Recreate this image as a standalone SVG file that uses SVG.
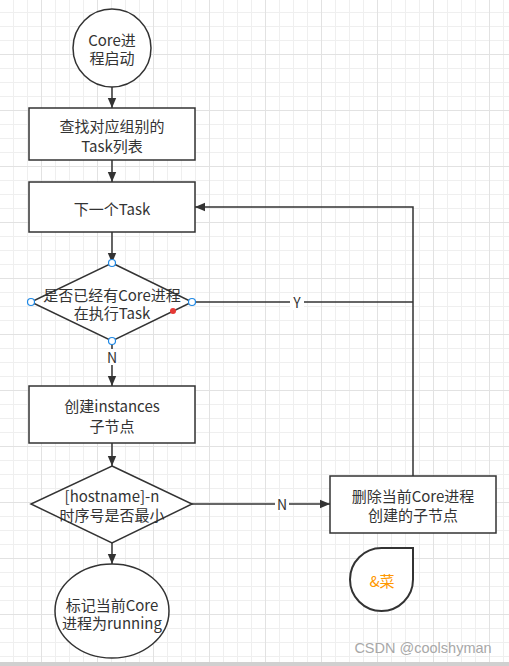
<svg xmlns="http://www.w3.org/2000/svg" width="509" height="666" viewBox="0 0 509 666">
<defs>
<pattern id="minor" x="13" y="12" width="14" height="14" patternUnits="userSpaceOnUse">
<path d="M0.5 0V14M0 0.5H14" stroke="#efefef" stroke-width="1" fill="none"/>
</pattern>
<pattern id="major" x="41" y="54" width="56" height="56" patternUnits="userSpaceOnUse">
<path d="M0.5 0V56M0 0.5H56" stroke="#e2e2e2" stroke-width="1" fill="none"/>
</pattern>
<marker id="arr" viewBox="0 0 10 10" refX="10" refY="5" markerWidth="10" markerHeight="10" markerUnits="userSpaceOnUse" orient="auto">
<path d="M0 0.8L10 5L0 9.2Z" fill="#333"/>
</marker>
</defs>
<style>
.shape{fill:#fff;stroke:#333;stroke-width:1.5}
.t{font-family:"Noto Sans CJK SC","Microsoft YaHei",sans-serif;font-size:15px;fill:#333;text-anchor:middle;dominant-baseline:central}
.c{fill:none;stroke:#333;stroke-width:1.5}
.lbl{font-family:"Noto Sans CJK SC",sans-serif;font-size:14px;fill:#333;text-anchor:middle;dominant-baseline:central}
.pt{fill:#fff;stroke:#1e88e5;stroke-width:1.2}
</style>
<rect width="509" height="666" fill="#fff"/>
<rect width="509" height="666" fill="url(#minor)"/>
<rect width="509" height="666" fill="url(#major)"/>
<rect x="0" y="662" width="509" height="4" fill="#d0d0d0"/>

<g id="connectors">
<line class="c" x1="112" y1="87" x2="112" y2="108" marker-end="url(#arr)"/>
<line class="c" x1="112" y1="160" x2="112" y2="182" marker-end="url(#arr)"/>
<line class="c" x1="112" y1="232" x2="112" y2="263" marker-end="url(#arr)"/>
<line class="c" x1="112" y1="341" x2="112" y2="386" marker-end="url(#arr)"/>
<line class="c" x1="112" y1="443" x2="112" y2="466" marker-end="url(#arr)"/>
<line class="c" x1="192" y1="504" x2="330" y2="504" marker-end="url(#arr)"/>
<line class="c" x1="112" y1="543" x2="112" y2="564" marker-end="url(#arr)"/>
<line class="c" x1="192" y1="302" x2="413" y2="302"/>
<polyline class="c" points="413,476 413,207 195,207" marker-end="url(#arr)"/>
<rect x="106" y="349" width="12" height="16" fill="#fff"/>
<text class="lbl" x="112" y="357">N</text>
<rect x="290" y="294" width="14" height="16" fill="#fff"/>
<text class="lbl" x="297" y="302">Y</text>
<rect x="275" y="496" width="14" height="16" fill="#fff"/>
<text class="lbl" x="282" y="504">N</text>
</g>

<g id="start">
<circle class="shape" cx="112" cy="48" r="39"/>
<text class="t" x="112" y="39">Core进</text>
<text class="t" x="112" y="57">程启动</text>
</g>

<g id="find-tasks">
<rect class="shape" x="29" y="108" width="166" height="52"/>
<text class="t" x="112" y="125">查找对应组别的</text>
<text class="t" x="112" y="145">Task列表</text>
</g>

<g id="next-task">
<rect class="shape" x="29" y="182" width="166" height="50"/>
<text class="t" x="112" y="208">下一个Task</text>
</g>

<g id="check-running">
<polygon class="shape" points="112,263 192,302 112,341 31,302"/>
<text class="t" x="112" y="294">是否已经有Core进程</text>
<text class="t" x="112" y="312">在执行Task</text>
<circle class="pt" cx="112" cy="263" r="3.5"/>
<circle class="pt" cx="31" cy="302" r="3.5"/>
<circle class="pt" cx="192" cy="302" r="3.5"/>
<circle class="pt" cx="112" cy="341" r="3.5"/>
<circle cx="173" cy="311" r="3" fill="#e53935"/>
</g>

<g id="create-node">
<rect class="shape" x="29" y="386" width="166" height="57"/>
<text class="t" x="112" y="405">创建instances</text>
<text class="t" x="112" y="425">子节点</text>
</g>

<g id="check-min">
<polygon class="shape" points="112,466 192,504 112,543 31,504"/>
<text class="t" x="112" y="495">[hostname]-n</text>
<text class="t" x="112" y="514">时序号是否最小</text>
</g>

<g id="delete-node">
<rect class="shape" x="330" y="476" width="166" height="57"/>
<text class="t" x="413" y="495">删除当前Core进程</text>
<text class="t" x="413" y="514">创建的子节点</text>
</g>

<g id="mark-running">
<ellipse class="shape" cx="112" cy="611" rx="57" ry="47"/>
<text class="t" x="112" y="604">标记当前Core</text>
<text class="t" x="112" y="622">进程为running</text>
</g>

<g id="drop">
<path d="M413 548L413 579.5A31.5 31.5 0 1 1 381.5 548Z" fill="#fff" stroke="#333" stroke-width="2"/>
<text class="t" x="382" y="580" style="fill:#ff9900">&amp;菜</text>
</g>

<text x="423" y="648" font-family="'Liberation Sans',Arial,sans-serif" font-size="14.5" fill="#a8a8a8" text-anchor="middle" dominant-baseline="central">CSDN @coolshyman</text>
</svg>
